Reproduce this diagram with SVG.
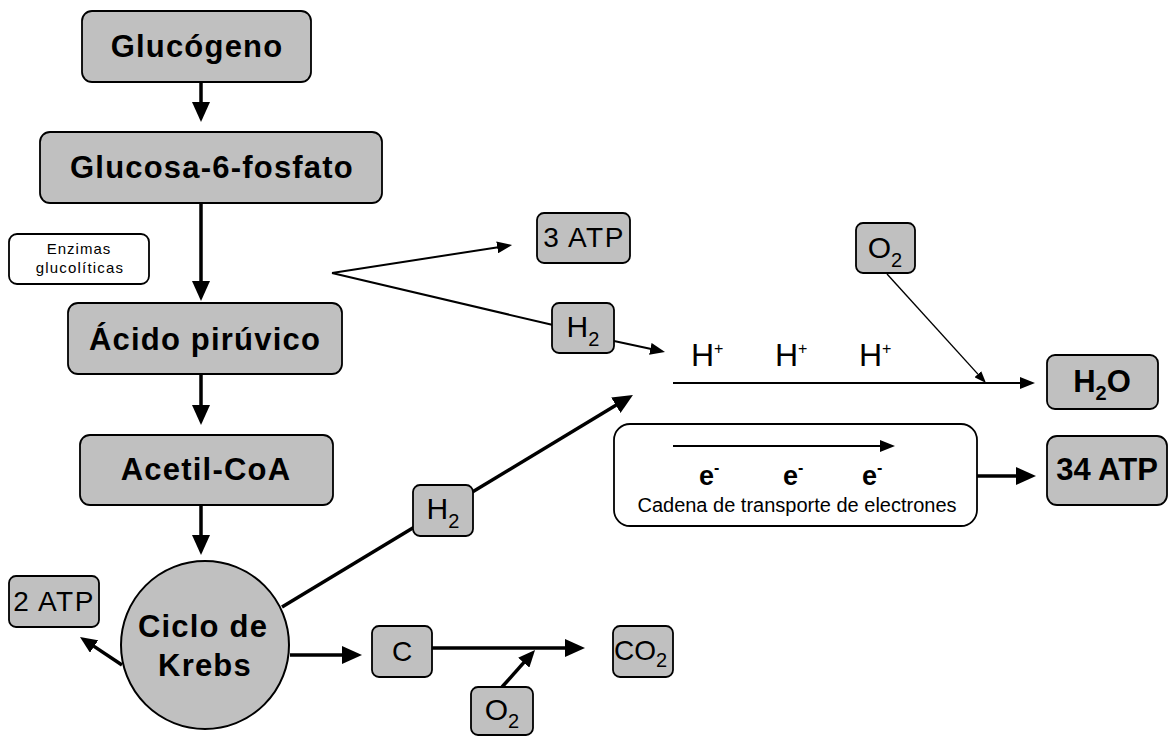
<svg xmlns="http://www.w3.org/2000/svg" width="1169" height="736" viewBox="0 0 1169 736">
<style>
text{font-family:"Liberation Sans",Arial,sans-serif;fill:#000}
.box{fill:#c0c0c0;stroke:#000;stroke-width:1.8}
.wbox{fill:#fff;stroke:#000;stroke-width:1.8}
.b{font-weight:bold;font-size:31px;letter-spacing:1.2px;text-anchor:middle}
.r{font-size:28px;text-anchor:middle}
.h{font-size:30px;text-anchor:middle}
.thick{stroke:#000;stroke-width:3.5;fill:none}
.mid{stroke:#000;stroke-width:2;fill:none}
.thin{stroke:#000;stroke-width:1.4;fill:none}
</style>
<defs>
<marker id="B" markerUnits="userSpaceOnUse" markerWidth="20" markerHeight="18" refX="1" refY="9" orient="auto"><path d="M0,0 L20,9 L0,18 z" fill="#000"/></marker>
<marker id="M2" markerUnits="userSpaceOnUse" markerWidth="17" markerHeight="15" refX="1" refY="7.5" orient="auto"><path d="M0,0 L17,7.5 L0,15 z" fill="#000"/></marker>
<marker id="M" markerUnits="userSpaceOnUse" markerWidth="15" markerHeight="12" refX="1" refY="6" orient="auto"><path d="M0,0 L15,6 L0,12 z" fill="#000"/></marker>
<marker id="S" markerUnits="userSpaceOnUse" markerWidth="12" markerHeight="9" refX="1" refY="4.5" orient="auto"><path d="M0,0 L12,4.5 L0,9 z" fill="#000"/></marker>
</defs>

<g id="connectors">
<line class="thick" x1="201" y1="82" x2="201" y2="103" marker-end="url(#B)"/>
<line class="thick" x1="201" y1="203" x2="201" y2="282" marker-end="url(#B)"/>
<line class="thick" x1="201" y1="374" x2="201" y2="406" marker-end="url(#B)"/>
<line class="thick" x1="201" y1="505" x2="201" y2="536" marker-end="url(#B)"/>
<line class="mid" x1="332" y1="273" x2="498.2" y2="247.2" marker-end="url(#M)"/>
<line class="mid" x1="332" y1="273" x2="553" y2="325"/>
<line class="mid" x1="614" y1="341" x2="651.3" y2="349" marker-end="url(#M)"/>
<line class="thin" x1="887" y1="274" x2="978.6" y2="374.9" marker-end="url(#S)"/>
<line class="mid" x1="673" y1="383" x2="1021" y2="383" marker-end="url(#M)"/>
<line class="thick" x1="977" y1="476" x2="1017" y2="476" marker-end="url(#B)"/>
<line class="thick" x1="282" y1="607" x2="616.7" y2="404.8" marker-end="url(#B)"/>
<line class="thick" x1="122" y1="665" x2="93.3" y2="645.9" marker-end="url(#M2)"/>
<line class="thick" x1="290" y1="655" x2="343" y2="655" marker-end="url(#B)"/>
<line class="thick" x1="432" y1="648" x2="566" y2="648" marker-end="url(#B)"/>
<line class="thick" x1="502" y1="687" x2="524.4" y2="661.9" marker-end="url(#M2)"/>
</g>

<g id="glucogeno"><rect class="box" x="82" y="11" width="229" height="71" rx="10"/><text class="b" x="197" y="57">Glucógeno</text></g>
<g id="glucosa6p"><rect class="box" x="40" y="132" width="342" height="71" rx="10"/><text class="b" x="212" y="178">Glucosa-6-fosfato</text></g>
<g id="enzimas"><rect class="wbox" x="9" y="234" width="140" height="50" rx="8"/><text x="79" y="254" font-size="15" letter-spacing="1" text-anchor="middle">Enzimas</text><text x="80" y="273" font-size="15" letter-spacing="1.2" text-anchor="middle">glucolíticas</text></g>
<g id="piruvico"><rect class="box" x="68" y="303" width="274" height="71" rx="10"/><text class="b" x="205" y="350">Ácido pirúvico</text></g>
<g id="acetilcoa"><rect class="box" x="80" y="435" width="253" height="70" rx="10"/><text class="b" x="206" y="480">Acetil-CoA</text></g>
<g id="krebs"><circle cx="205" cy="645" r="84" fill="#c0c0c0" stroke="#000" stroke-width="2"/><text class="b" x="203" y="637">Ciclo de</text><text class="b" x="205" y="676">Krebs</text></g>
<g id="atp2"><rect class="box" x="9" y="576" width="90" height="51" rx="7"/><text class="r" x="54" y="611" letter-spacing="1.5">2 ATP</text></g>
<g id="atp3"><rect class="box" x="537" y="213" width="93" height="50" rx="7"/><text class="r" x="584" y="247" letter-spacing="1.5">3 ATP</text></g>
<g id="h2up"><rect class="box" x="552" y="303" width="62" height="50" rx="7"/><text class="h" x="583" y="337">H<tspan font-size="20" dy="9">2</tspan></text></g>
<g id="h2low"><rect class="box" x="413" y="485" width="60" height="51" rx="7"/><text class="h" x="443" y="519">H<tspan font-size="20" dy="9">2</tspan></text></g>
<g id="o2up"><rect class="box" x="856" y="223" width="59" height="50" rx="7"/><text class="h" x="885" y="258">O<tspan font-size="20" dy="9">2</tspan></text></g>
<g id="hplus"><text x="691" y="366" font-size="32">H<tspan font-size="16" dy="-12">+</tspan></text><text x="775" y="366" font-size="32">H<tspan font-size="16" dy="-12">+</tspan></text><text x="859" y="366" font-size="32">H<tspan font-size="16" dy="-12">+</tspan></text></g>
<g id="h2o"><rect class="box" x="1047" y="355" width="111" height="54" rx="8"/><text x="1102" y="392" font-size="31" font-weight="bold" text-anchor="middle">H<tspan font-size="20" dy="8">2</tspan><tspan dy="-8">O</tspan></text></g>
<g id="cadena"><rect class="wbox" x="614" y="424" width="363" height="102" rx="16"/><line class="mid" x1="673" y1="446" x2="881" y2="446" marker-end="url(#M)"/><text x="699" y="485" font-size="27" font-weight="bold">e<tspan font-size="16" dy="-12">-</tspan></text><text x="783" y="485" font-size="27" font-weight="bold">e<tspan font-size="16" dy="-12">-</tspan></text><text x="862" y="485" font-size="27" font-weight="bold">e<tspan font-size="16" dy="-12">-</tspan></text><text x="797" y="512" font-size="20" text-anchor="middle">Cadena de transporte de electrones</text></g>
<g id="atp34"><rect class="box" x="1047" y="436" width="120" height="69" rx="10"/><text x="1107" y="480" font-size="31" font-weight="bold" text-anchor="middle">34 ATP</text></g>
<g id="c"><rect class="box" x="372" y="626" width="60" height="51" rx="7"/><text class="r" x="402" y="661">C</text></g>
<g id="co2"><rect class="box" x="613" y="626" width="60" height="51" rx="7"/><text x="614" y="660" font-size="28">CO<tspan font-size="20" dy="7">2</tspan></text></g>
<g id="o2low"><rect class="box" x="471" y="687" width="62" height="48" rx="7"/><text class="h" x="502" y="720">O<tspan font-size="20" dy="8">2</tspan></text></g>
</svg>
